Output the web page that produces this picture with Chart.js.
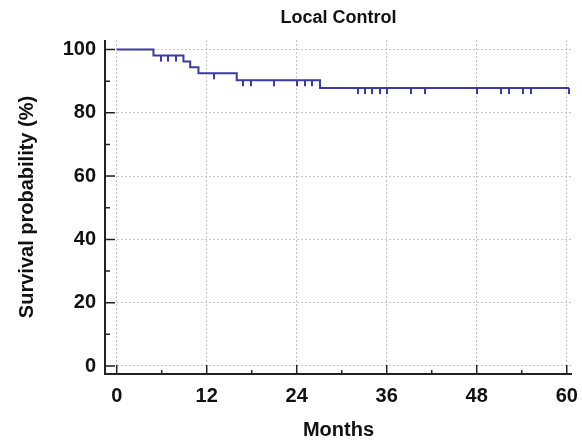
<!DOCTYPE html>
<html lang="en">
<head>
    <meta charset="UTF-8">
    <title>Local Control</title>
    <style>
        html, body { margin: 0; padding: 0; background: #fff; }
        #chart-box { width: 582px; height: 443px; }
    </style>
</head>
<body>
    <div id="chart-box"><canvas id="km-chart" width="582" height="443"></canvas></div>
    <script src="https://cdn.jsdelivr.net/npm/chart.js"></script>
    <script>
    // Kaplan-Meier steps (months, survival %)
    const stepMonths = [0, 4.9, 8.9, 9.8, 10.9, 16.0, 27.1, 60.3];
    const stepSurvival = [100, 98.1, 96.2, 94.4, 92.5, 90.3, 87.8, 87.8];

    // censored observations
    const censorMonths = [5.9, 6.9, 7.9, 13.0, 16.9, 17.9, 21.0, 24.0, 25.1, 26.1,
        32.2, 33.1, 34.1, 35.1, 36.1, 39.2, 41.1, 48.1, 51.2, 52.3, 54.2, 55.3, 60.3];
    const censorSurvival = [98.1, 98.1, 98.1, 92.5, 90.3, 90.3, 90.3, 90.3, 90.3, 90.3,
        87.8, 87.8, 87.8, 87.8, 87.8, 87.8, 87.8, 87.8, 87.8, 87.8, 87.8, 87.8, 87.8];

    const xTicks = [0, 12, 24, 36, 48, 60];
    const xMinorTicks = [6, 18, 30, 42, 54];
    const yTicks = [0, 20, 40, 60, 80, 100];
    const yMinorTicks = [10, 30, 50, 70, 90];

    const lineColor = '#3a3aa8';
    const fontFamily = "'Liberation Sans', Arial, sans-serif";

    // small downward tick used as the censor marker
    const censorMark = document.createElement('canvas');
    censorMark.width = 2;
    censorMark.height = 14;
    const mctx = censorMark.getContext('2d');
    mctx.fillStyle = lineColor;
    mctx.fillRect(0, 7, 2, 6);

    // axis lines, inward ticks and the title centred over the plot
    const axesPlugin = {
        id: 'axesPlugin',
        afterDraw(chart) {
            const ctx = chart.ctx;
            const area = chart.chartArea;
            const xs = chart.scales.x, ys = chart.scales.y;
            ctx.save();
            ctx.strokeStyle = '#222';
            ctx.lineWidth = 2;
            ctx.beginPath();
            ctx.moveTo(area.left, area.top);
            ctx.lineTo(area.left, area.bottom);
            ctx.lineTo(area.right, area.bottom);
            ctx.stroke();

            ctx.lineWidth = 1.5;
            ctx.beginPath();
            yTicks.forEach(v => {
                const y = ys.getPixelForValue(v);
                ctx.moveTo(area.left, y);
                ctx.lineTo(area.left + 10, y);
            });
            yMinorTicks.forEach(v => {
                const y = ys.getPixelForValue(v);
                ctx.moveTo(area.left, y);
                ctx.lineTo(area.left + 5, y);
            });
            xTicks.forEach(v => {
                const x = xs.getPixelForValue(v);
                ctx.moveTo(x, area.bottom);
                ctx.lineTo(x, area.bottom - 9);
            });
            xMinorTicks.forEach(v => {
                const x = xs.getPixelForValue(v);
                ctx.moveTo(x, area.bottom);
                ctx.lineTo(x, area.bottom - 4);
            });
            ctx.stroke();

            ctx.fillStyle = '#111';
            ctx.font = 'bold 18px ' + fontFamily;
            ctx.textAlign = 'center';
            ctx.textBaseline = 'middle';
            ctx.fillText('Local Control', (area.left + area.right) / 2, 18);
            ctx.restore();
        }
    };

    const tickFont = { family: fontFamily, size: 20, weight: 'bold' };

    new Chart(document.getElementById('km-chart'), {
        type: 'scatter',
        data: {
            datasets: [
                {
                    label: 'Local Control',
                    data: stepMonths.map((m, i) => ({ x: m, y: stepSurvival[i] })),
                    showLine: true,
                    stepped: 'before',
                    borderColor: lineColor,
                    borderWidth: 2,
                    pointRadius: 0,
                    fill: false
                },
                {
                    label: 'Censored',
                    data: censorMonths.map((m, i) => ({ x: m, y: censorSurvival[i] })),
                    showLine: false,
                    pointStyle: censorMark,
                    pointRadius: 4
                }
            ]
        },
        options: {
            responsive: false,
            animation: false,
            layout: { padding: { top: 40, right: 10, left: 0, bottom: 0 } },
            plugins: {
                legend: { display: false },
                tooltip: { enabled: false },
                title: { display: false }
            },
            scales: {
                x: {
                    type: 'linear',
                    min: -1.56,
                    max: 60.7,
                    afterBuildTicks: s => { s.ticks = xTicks.map(v => ({ value: v })); },
                    afterFit: s => { s.height = 69; s.paddingLeft = 0; s.paddingRight = 0; },
                    grid: { color: '#c4c4c4', lineWidth: 1, drawTicks: false },
                    border: { display: false, dash: [2, 2] },
                    ticks: { color: '#111', font: tickFont, padding: 10, maxRotation: 0 },
                    title: {
                        display: true,
                        text: 'Months',
                        color: '#111',
                        font: tickFont,
                        padding: { top: 1, bottom: 1 }
                    }
                },
                y: {
                    type: 'linear',
                    min: -2.53,
                    max: 103,
                    afterBuildTicks: s => { s.ticks = yTicks.map(v => ({ value: v })); },
                    afterFit: s => { s.width = 105; s.paddingTop = 0; s.paddingBottom = 0; },
                    grid: { color: '#c4c4c4', lineWidth: 1, drawTicks: false },
                    border: { display: false, dash: [2, 2] },
                    ticks: { color: '#111', font: tickFont, padding: 9 },
                    title: {
                        display: true,
                        text: 'Survival probability (%)',
                        color: '#111',
                        font: tickFont,
                        padding: { top: 15, bottom: 0 }
                    }
                }
            }
        },
        plugins: [axesPlugin]
    });
    </script>
</body>
</html>
